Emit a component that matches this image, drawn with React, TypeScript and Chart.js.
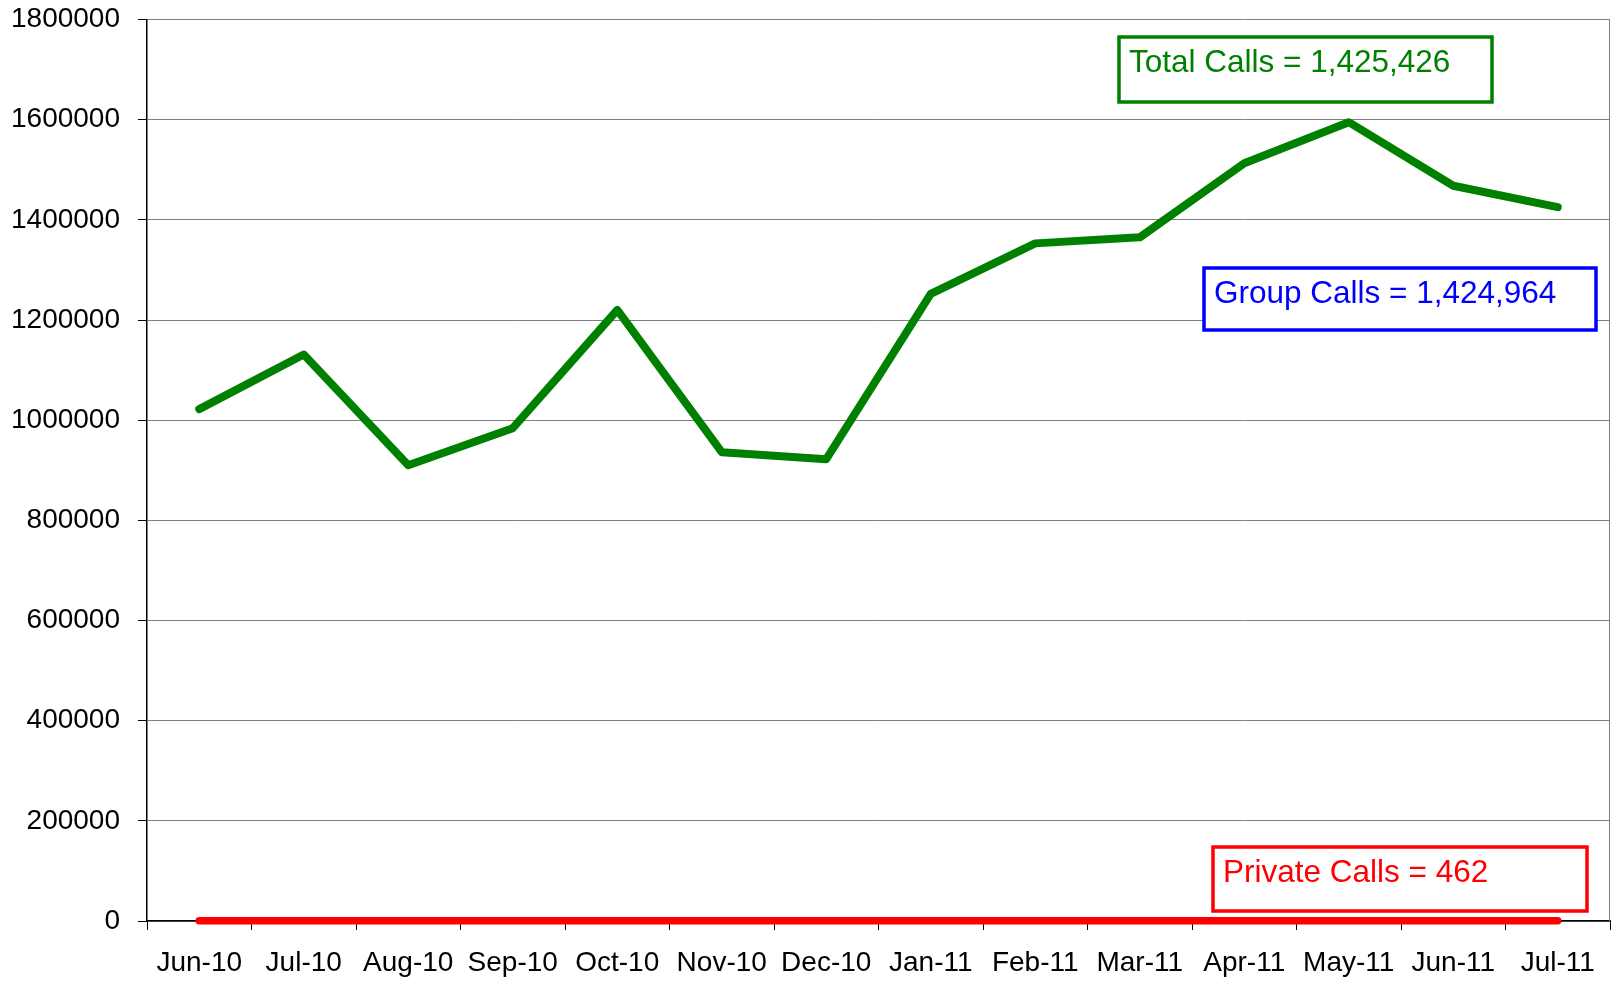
import React, { useEffect, useRef } from "react";
import { Chart, registerables } from "chart.js";

Chart.register(...registerables);

const categories = [
  "Jun-10", "Jul-10", "Aug-10", "Sep-10", "Oct-10", "Nov-10", "Dec-10",
  "Jan-11", "Feb-11", "Mar-11", "Apr-11", "May-11", "Jun-11", "Jul-11",
];

const totalCalls = [
  1022000, 1131000, 910000, 984000, 1220000, 936000, 922000,
  1252000, 1353000, 1365000, 1513000, 1595000, 1468000, 1425426,
];

const privateCalls = [
  410, 450, 380, 390, 470, 400, 370, 430, 440, 450, 480, 500, 470, 462,
];

const yTicks = [0, 200000, 400000, 600000, 800000, 1000000, 1200000, 1400000, 1600000, 1800000];

const annotationTexts = [
  "Total Calls = 1,425,426",
  "Group Calls = 1,424,964",
  "Private Calls = 462",
];

const FONT = "'Liberation Sans', Arial, Helvetica, sans-serif";

const boxesPlugin = {
  id: "boxes",
  afterDraw(chart: any) {
    const ctx = chart.ctx;
    const area = chart.chartArea;
    ctx.save();
    // right plot border
    ctx.strokeStyle = "#808080";
    ctx.lineWidth = 1;
    ctx.beginPath();
    ctx.moveTo(area.right - 0.5, area.top);
    ctx.lineTo(area.right - 0.5, area.bottom);
    ctx.stroke();

    const boxes = [
      { text: annotationTexts[0], color: "#008000", x: 1119, y: 37, w: 373, h: 65 },
      { text: annotationTexts[1], color: "#0000FF", x: 1204, y: 268, w: 392, h: 62 },
      { text: annotationTexts[2], color: "#FF0000", x: 1213, y: 847, w: 374, h: 64 },
    ];
    ctx.font = `31.5px ${FONT}`;
    ctx.textBaseline = "alphabetic";
    ctx.textAlign = "left";
    for (const b of boxes) {
      ctx.fillStyle = "#ffffff";
      ctx.fillRect(b.x, b.y, b.w, b.h);
      ctx.strokeStyle = b.color;
      ctx.lineWidth = 3.5;
      ctx.strokeRect(b.x, b.y, b.w, b.h);
      ctx.fillStyle = b.color;
      ctx.fillText(b.text, b.x + 10, b.y + 35);
    }
    ctx.restore();
  },
};

export default function App() {
  const ref = useRef<HTMLCanvasElement | null>(null);

  useEffect(() => {
    document.body.style.margin = "0";
    const canvas = ref.current;
    if (!canvas) return;
    const chart = new Chart(canvas, {
      type: "line",
      data: {
        labels: categories,
        datasets: [
          {
            label: "Total Calls",
            data: totalCalls,
            borderColor: "#008000",
            backgroundColor: "#008000",
            borderWidth: 8,
            pointRadius: 0,
            borderCapStyle: "round",
            borderJoinStyle: "round",
            tension: 0,
            clip: false as any,
          },
          {
            label: "Private Calls",
            data: privateCalls,
            borderColor: "#FF0000",
            backgroundColor: "#FF0000",
            borderWidth: 7.5,
            pointRadius: 0,
            borderCapStyle: "round",
            borderJoinStyle: "round",
            tension: 0,
            clip: false as any,
          },
        ],
      },
      options: {
        responsive: false,
        animation: false,
        devicePixelRatio: 1,
        layout: { padding: { top: 19.5, right: 1, bottom: 0, left: 0 } },
        plugins: {
          legend: { display: false },
          tooltip: { enabled: false },
          title: { display: false },
        },
        scales: {
          x: {
            type: "category",
            offset: true,
            grid: {
              offset: true,
              drawOnChartArea: false,
              drawTicks: true,
              tickLength: 9,
              tickColor: "#000000",
              tickWidth: 1,
            },
            border: { display: true, color: "#000000", width: 1.5 },
            ticks: {
              color: "#000000",
              font: { family: FONT, size: 28 },
              padding: 16,
              autoSkip: false,
              maxRotation: 0,
              minRotation: 0,
            },
            afterFit: (scale: any) => {
              scale.height = 61;
              scale.paddingLeft = 0;
              scale.paddingRight = 0;
            },
          },
          y: {
            min: 0,
            max: 1800000,
            afterBuildTicks: (scale: any) => {
              scale.ticks = yTicks.map((v) => ({ value: v }));
            },
            grid: {
              color: "#808080",
              lineWidth: 1,
              tickLength: 9,
              tickColor: "#000000",
            },
            border: { display: true, color: "#000000", width: 1.5 },
            ticks: {
              color: "#000000",
              font: { family: FONT, size: 28 },
              padding: 18,
              callback: (v: any) => String(v),
            },
            afterFit: (scale: any) => {
              scale.width = 147;
              scale.paddingTop = 0;
              scale.paddingBottom = 0;
            },
          },
        },
      },
      plugins: [boxesPlugin],
    });
    return () => chart.destroy();
  }, []);

  return (
    <div style={{ position: "absolute", left: 0, top: 0, width: 1611, height: 982, background: "#ffffff" }}>
      <canvas ref={ref} width={1611} height={982} />
    </div>
  );
}
